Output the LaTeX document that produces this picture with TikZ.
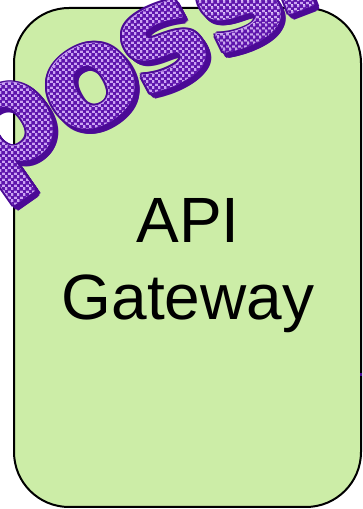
\documentclass[tikz,border=0pt]{standalone}
\usepackage{fontspec}
\setmainfont{Liberation Sans}
\newfontfamily\wordfont{DejaVu Sans}
\usetikzlibrary{patterns}

\definecolor{boxgreen}{HTML}{CCEDA7}
\definecolor{wordedge}{HTML}{4B0A96}
\definecolor{wordlight}{HTML}{CBA3F3}
\definecolor{worddark}{HTML}{5E15AD}

% small checkerboard tile used inside the purple letters
\pgfdeclarepatternformonly{wordcheck}{\pgfpointorigin}{\pgfqpoint{6.4pt}{6.4pt}}{\pgfqpoint{6.4pt}{6.4pt}}{%
  \pgfpathrectangle{\pgfpointorigin}{\pgfqpoint{3.2pt}{3.2pt}}%
  \pgfpathrectangle{\pgfqpoint{3.2pt}{3.2pt}}{\pgfqpoint{3.2pt}{3.2pt}}%
  \pgfusepath{fill}}

% the glyph becomes a clipping path (text render mode 7), then the
% checkerboard is painted through it
\newcommand\checkglyph[1]{%
  \special{pdf:literal 7 Tr}#1\special{pdf:literal 0 Tr}%
  \tikz[overlay]\fill[pattern=wordcheck, pattern color=worddark] (-130pt,-50pt) rectangle (20pt,130pt);}

\tikzset{
  glyph/.style={font={\wordfont\bfseries\fontsize{138pt}{138pt}\selectfont}, inner sep=0pt, anchor=center},
  gwbox/.style={draw=black, line width=2pt, fill=boxgreen, rounded corners=55pt, inner sep=0pt},
  gwtext/.style={font={\fontsize{64pt}{77pt}\selectfont}, align=center, inner sep=0pt, text=black},
}

% one heavy, outlined, shadowed, checkered letter: name, letter, x, y, angle
\newcommand\wordletter[5]{%
  % dark rim and the shadow falling to the lower right
  \foreach \s in {0,1.2,2.4,3.6}
    \foreach \a in {0,30,...,330}
      \node[glyph, text=wordedge, rotate=#5] at ({#3+\s+3.2*cos(\a)},{#4-\s+3.2*sin(\a)}) {#2};
  % light body, thickened a little
  \foreach \a in {0,45,...,315}
    \node[glyph, text=wordlight, rotate=#5] at ({#3+1.4*cos(\a)},{#4+1.4*sin(\a)}) {#2};
  \node[glyph, text=wordlight, rotate=#5] (#1) at (#3,#4) {#2};
  % checkered squares over the same body
  \foreach \a in {0,45,...,315}
    \node[glyph, rotate=#5] at ({#3+1.4*cos(\a)},{#4+1.4*sin(\a)}) {\checkglyph{#2}};
  \node[glyph, rotate=#5] at (#3,#4) {\checkglyph{#2}};
}

\begin{document}
\begin{tikzpicture}[x=1pt, y=1pt]
  \useasboundingbox (0,0) rectangle (362,509);
  \clip (0,0) rectangle (362,509);

  % the gateway box and its label
  \node[gwbox, minimum width=347pt, minimum height=499pt] (box) at (187.5,251.5) {};
  \node[gwtext] (label) at (188,243.7) {API\\Gateway};

  % arched purple lettering across the top left corner
  \wordletter{lp}{p}{15}{370}{35}
  \wordletter{lo}{o}{91}{423}{31}
  \wordletter{ls}{s}{164}{463}{28}
  \wordletter{lt}{s}{239}{503}{26}
  \wordletter{li}{i}{283}{549}{21}

  % tip of a mark entering at the right edge
  \fill[wordedge] (359.5,133) rectangle (362,136);
\end{tikzpicture}
\end{document}
